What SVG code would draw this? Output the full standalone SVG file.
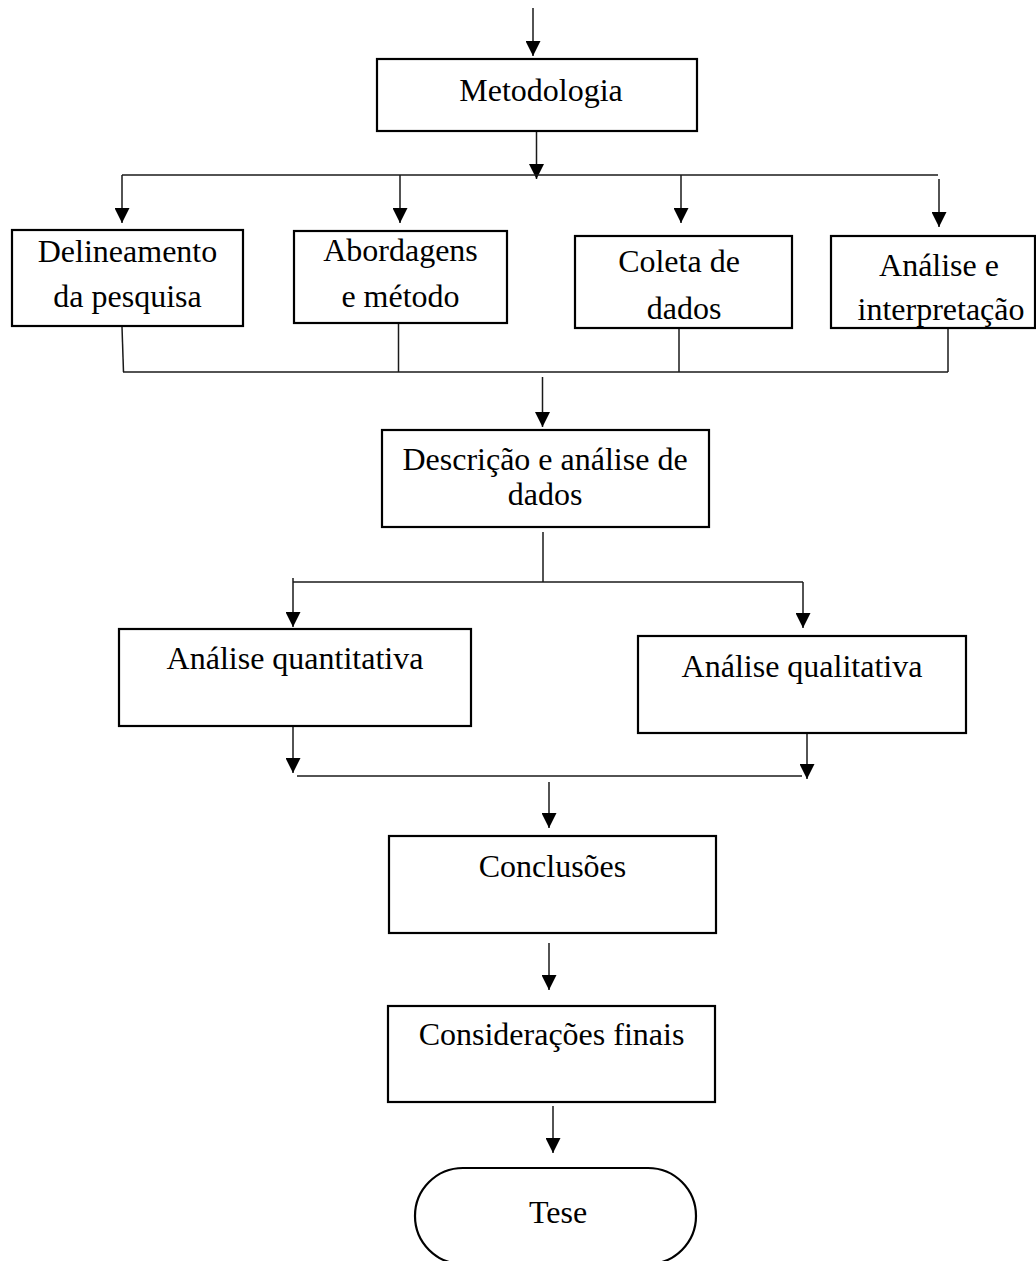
<svg xmlns="http://www.w3.org/2000/svg" width="1036" height="1261" viewBox="0 0 1036 1261">
  <style>
    .box { fill: #ffffff; stroke: #000000; stroke-width: 2.2; }
    .lbl { font-family: "Liberation Serif", "Times New Roman", serif; font-size: 32px; fill: #000000; text-anchor: middle; }
    .wire { fill: none; stroke: #1a1a1a; stroke-width: 1.5; }
    .arrow { fill: none; stroke: #1a1a1a; stroke-width: 1.5; marker-end: url(#head); }
  </style>
  <defs>
    <marker id="head" markerUnits="userSpaceOnUse" markerWidth="15" markerHeight="15" refX="15" refY="7.5" orient="auto">
      <path d="M0,0 L15,7.5 L0,15 Z" fill="#000000"/>
    </marker>
  </defs>
  <rect width="1036" height="1261" fill="#ffffff"/>

  <g id="connectors">
    <!-- entry arrow -->
    <line class="arrow" x1="533" y1="8" x2="533" y2="56"/>
    <!-- Metodologia to fan-out bar -->
    <line class="arrow" x1="536.5" y1="131" x2="536.5" y2="179"/>
    <line class="wire" x1="122" y1="175" x2="938" y2="175"/>
    <line class="arrow" x1="122" y1="175" x2="122" y2="223"/>
    <line class="arrow" x1="400" y1="175" x2="400" y2="223"/>
    <line class="arrow" x1="681" y1="175" x2="681" y2="223"/>
    <line class="arrow" x1="939" y1="179" x2="939" y2="227"/>
    <!-- collector bar under the four boxes -->
    <line class="wire" x1="122" y1="327" x2="123.5" y2="372"/>
    <line class="wire" x1="398.5" y1="323" x2="398.5" y2="372"/>
    <line class="wire" x1="679" y1="323" x2="679" y2="372"/>
    <line class="wire" x1="948" y1="322" x2="948" y2="372"/>
    <line class="wire" x1="123" y1="372" x2="948" y2="372"/>
    <line class="arrow" x1="542.5" y1="377" x2="542.5" y2="427"/>
    <!-- split to the two analyses -->
    <line class="wire" x1="543" y1="532" x2="543" y2="582"/>
    <line class="wire" x1="293" y1="582" x2="803" y2="582"/>
    <line class="arrow" x1="293" y1="578" x2="293" y2="627"/>
    <line class="arrow" x1="803" y1="582" x2="803" y2="628"/>
    <!-- join below the two analyses -->
    <line class="arrow" x1="293" y1="726" x2="293" y2="773"/>
    <line class="arrow" x1="807" y1="733" x2="807" y2="779"/>
    <line class="wire" x1="297" y1="776" x2="802" y2="776"/>
    <line class="arrow" x1="549" y1="782" x2="549" y2="828"/>
    <!-- final chain -->
    <line class="arrow" x1="549" y1="943" x2="549" y2="990"/>
    <line class="arrow" x1="553" y1="1106" x2="553" y2="1153"/>
  </g>

  <g id="metodologia">
    <rect class="box" x="377" y="59" width="320" height="72"/>
    <text class="lbl" x="541" y="101">Metodologia</text>
  </g>

  <g id="delineamento">
    <rect class="box" x="12" y="230" width="231" height="96"/>
    <text class="lbl" x="127.5" y="262">Delineamento</text>
    <text class="lbl" x="127.5" y="307">da pesquisa</text>
  </g>

  <g id="abordagens">
    <rect class="box" x="294" y="231" width="213" height="92"/>
    <text class="lbl" x="400.5" y="261">Abordagens</text>
    <text class="lbl" x="400.5" y="307">e método</text>
  </g>

  <g id="coleta">
    <rect class="box" x="575" y="236" width="217" height="92"/>
    <text class="lbl" x="679" y="272">Coleta de</text>
    <text class="lbl" x="684" y="319">dados</text>
  </g>

  <g id="analise-interpretacao">
    <rect class="box" x="831" y="236" width="204" height="92"/>
    <text class="lbl" x="939" y="276">Análise e</text>
    <text class="lbl" x="941" y="320">interpretação</text>
  </g>

  <g id="descricao">
    <rect class="box" x="382" y="430" width="327" height="97"/>
    <text class="lbl" x="545" y="470">Descrição e análise de</text>
    <text class="lbl" x="545" y="505">dados</text>
  </g>

  <g id="quantitativa">
    <rect class="box" x="119" y="629" width="352" height="97"/>
    <text class="lbl" x="295" y="669">Análise quantitativa</text>
  </g>

  <g id="qualitativa">
    <rect class="box" x="638" y="636" width="328" height="97"/>
    <text class="lbl" x="802" y="677">Análise qualitativa</text>
  </g>

  <g id="conclusoes">
    <rect class="box" x="389" y="836" width="327" height="97"/>
    <text class="lbl" x="552.5" y="877">Conclusões</text>
  </g>

  <g id="consideracoes">
    <rect class="box" x="388" y="1006" width="327" height="96"/>
    <text class="lbl" x="551.5" y="1045">Considerações finais</text>
  </g>

  <g id="tese">
    <rect class="box" x="415" y="1168" width="281" height="96" rx="48" ry="48"/>
    <text class="lbl" x="558" y="1223">Tese</text>
  </g>
</svg>
